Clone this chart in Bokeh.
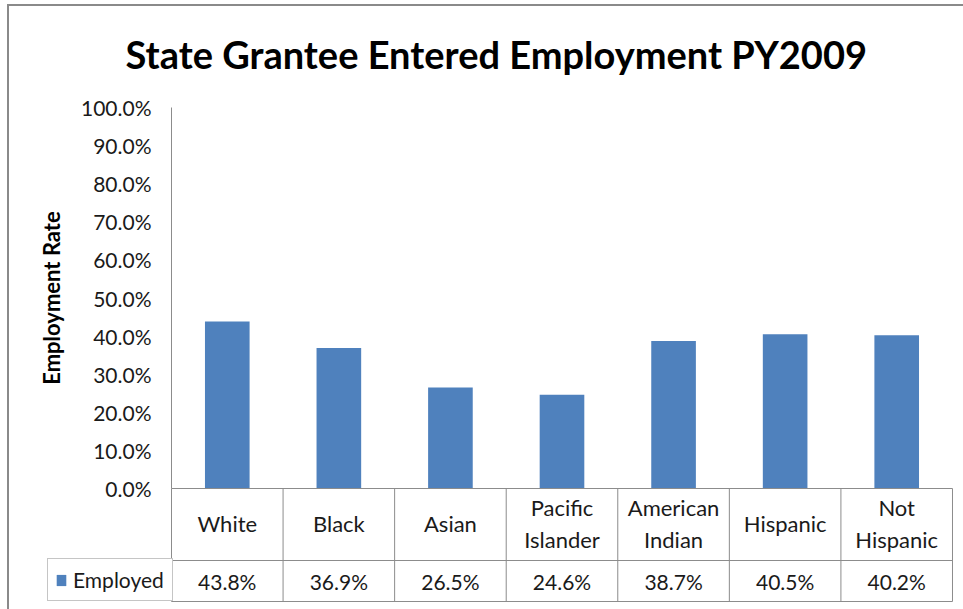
from bokeh.plotting import figure
from bokeh.layouts import column
from bokeh.models import Range1d, FixedTicker, Legend, LegendItem
from bokeh.core.properties import value
from bokeh.embed import file_html
from bokeh.resources import INLINE

# ---------------- data ----------------
title_text = "State Grantee Entered Employment PY2009"
y_axis_label = "Employment Rate"
series_name = "Employed"
categories = ["White", "Black", "Asian", "Pacific\nIslander",
              "American\nIndian", "Hispanic", "Not\nHispanic"]
employed = [43.8, 36.9, 26.5, 24.6, 38.7, 40.5, 40.2]
y_ticks = [0, 10, 20, 30, 40, 50, 60, 70, 80, 90, 100]
y_tick_labels = ["0.0%", "10.0%", "20.0%", "30.0%", "40.0%", "50.0%",
                 "60.0%", "70.0%", "80.0%", "90.0%", "100.0%"]

# ---------------- layout (page pixels) ----------------
PAGE_W, PAGE_H = 963, 609
OX, OY = 9, 6                  # content origin (inside chart border)
AX_X = 171                     # page x of the value axis / first category edge
F_LEFT, F_RIGHT = OX, 954      # frame edges on page
F_TOP, F_BOTTOM = 95, 603
Y0_PX, Y100_PX = 488, 107      # where 0% and 100% sit
PX_PER_UNIT_Y = (Y0_PX - Y100_PX) / 100.0
CAT_PX = 111.57
KEY_LEFT = 47                  # left edge of the table's key cell
ROW1_MID, ROW2_TOP, ROW2_MID, ROW2_BOT = 523, 560, 580.5, 601
n = len(categories)

FONT = "Lato"
GRID = "#8c8c8c"
BAR = "#4f81bd"
TXT = "#1a1a1a"


def yd(px):
    """page pixel row -> value-axis units"""
    return (Y0_PX - px) / PX_PER_UNIT_Y


xs = [i + 0.5 for i in range(n)]

p = figure(width=PAGE_W - OX, height=PAGE_H - OY,
           output_backend="svg", toolbar_location=None,
           x_range=Range1d((F_LEFT - AX_X) / CAT_PX, (F_RIGHT - AX_X) / CAT_PX),
           y_range=Range1d(yd(F_BOTTOM), yd(F_TOP)),
           x_axis_location=None,
           min_border_left=0, min_border_right=PAGE_W - F_RIGHT,
           min_border_top=F_TOP - OY, min_border_bottom=PAGE_H - F_BOTTOM)
p.outline_line_color = None
p.xgrid.visible = False
p.ygrid.visible = False

p.title.text = title_text
p.title.text_font = FONT
p.title.text_font_style = "bold"
p.title.text_font_size = "38px"
p.title.text_color = "black"
p.title.align = "left"
p.title.offset = 125 - F_LEFT
p.title.standoff = 37

ax = p.yaxis[0]
ax.fixed_location = 0
ax.bounds = (y_ticks[0], y_ticks[-1])
ax.ticker = FixedTicker(ticks=y_ticks)
ax.major_label_overrides = {t: l for t, l in zip(y_ticks, y_tick_labels)}
ax.axis_line_color = GRID
ax.major_tick_line_color = None
ax.minor_tick_line_color = None
ax.major_tick_out = 0
ax.major_tick_in = 0
ax.minor_tick_out = 0
ax.major_label_standoff = 20
ax.major_label_text_font = FONT
ax.major_label_text_font_size = "21px"
ax.major_label_text_color = TXT
ax.axis_label = y_axis_label
ax.axis_label_text_font = FONT
ax.axis_label_text_font_style = "bold"
ax.axis_label_text_font_size = "22px"
ax.axis_label_text_color = "black"
ax.axis_label_standoff = 13

bars = p.vbar(x=xs, top=employed, bottom=0, width=0.4,
              fill_color=BAR, line_color=None)

# data table rules
hy = [yd(Y0_PX), yd(ROW2_TOP), yd(ROW2_BOT)]
p.segment(x0=[0] * 3, x1=[n] * 3, y0=hy, y1=hy, line_color=GRID, line_width=1)
p.segment(x0=list(range(0, n + 1)), x1=list(range(0, n + 1)),
          y0=[0] * (n + 1), y1=[yd(ROW2_BOT)] * (n + 1),
          line_color=GRID, line_width=1)

p.text(x=xs, y=[yd(ROW1_MID)] * n, text=categories, text_align="center",
       text_baseline="middle", text_font=value(FONT), text_font_size="22px",
       text_color=TXT, text_line_height=1.2)
p.text(x=xs, y=[yd(ROW2_MID)] * n, text=[f"{v:.1f}%" for v in employed],
       text_align="center", text_baseline="middle", text_font=value(FONT),
       text_font_size="21px", text_color=TXT)

leg = Legend(items=[LegendItem(label=series_name, renderers=[bars])],
             location=(KEY_LEFT - F_LEFT, F_BOTTOM - ROW2_BOT),
             orientation="vertical", margin=0, padding=7, spacing=0,
             glyph_width=12, glyph_height=14, label_standoff=6,
             label_height=27, label_width=92,
             label_text_font=FONT, label_text_font_size="21px",
             label_text_color=TXT, label_text_baseline="middle",
             border_line_color=GRID, border_line_width=1,
             background_fill_color="white", background_fill_alpha=1)
p.add_layout(leg, "center")

layout = column(p, spacing=0,
                styles={"border-left": "2px solid #8a8a8a",
                        "border-top": "2px solid #8a8a8a",
                        "margin-left": "7px", "margin-top": "4px"})

open("out.html", "w").write(file_html(layout, INLINE))
